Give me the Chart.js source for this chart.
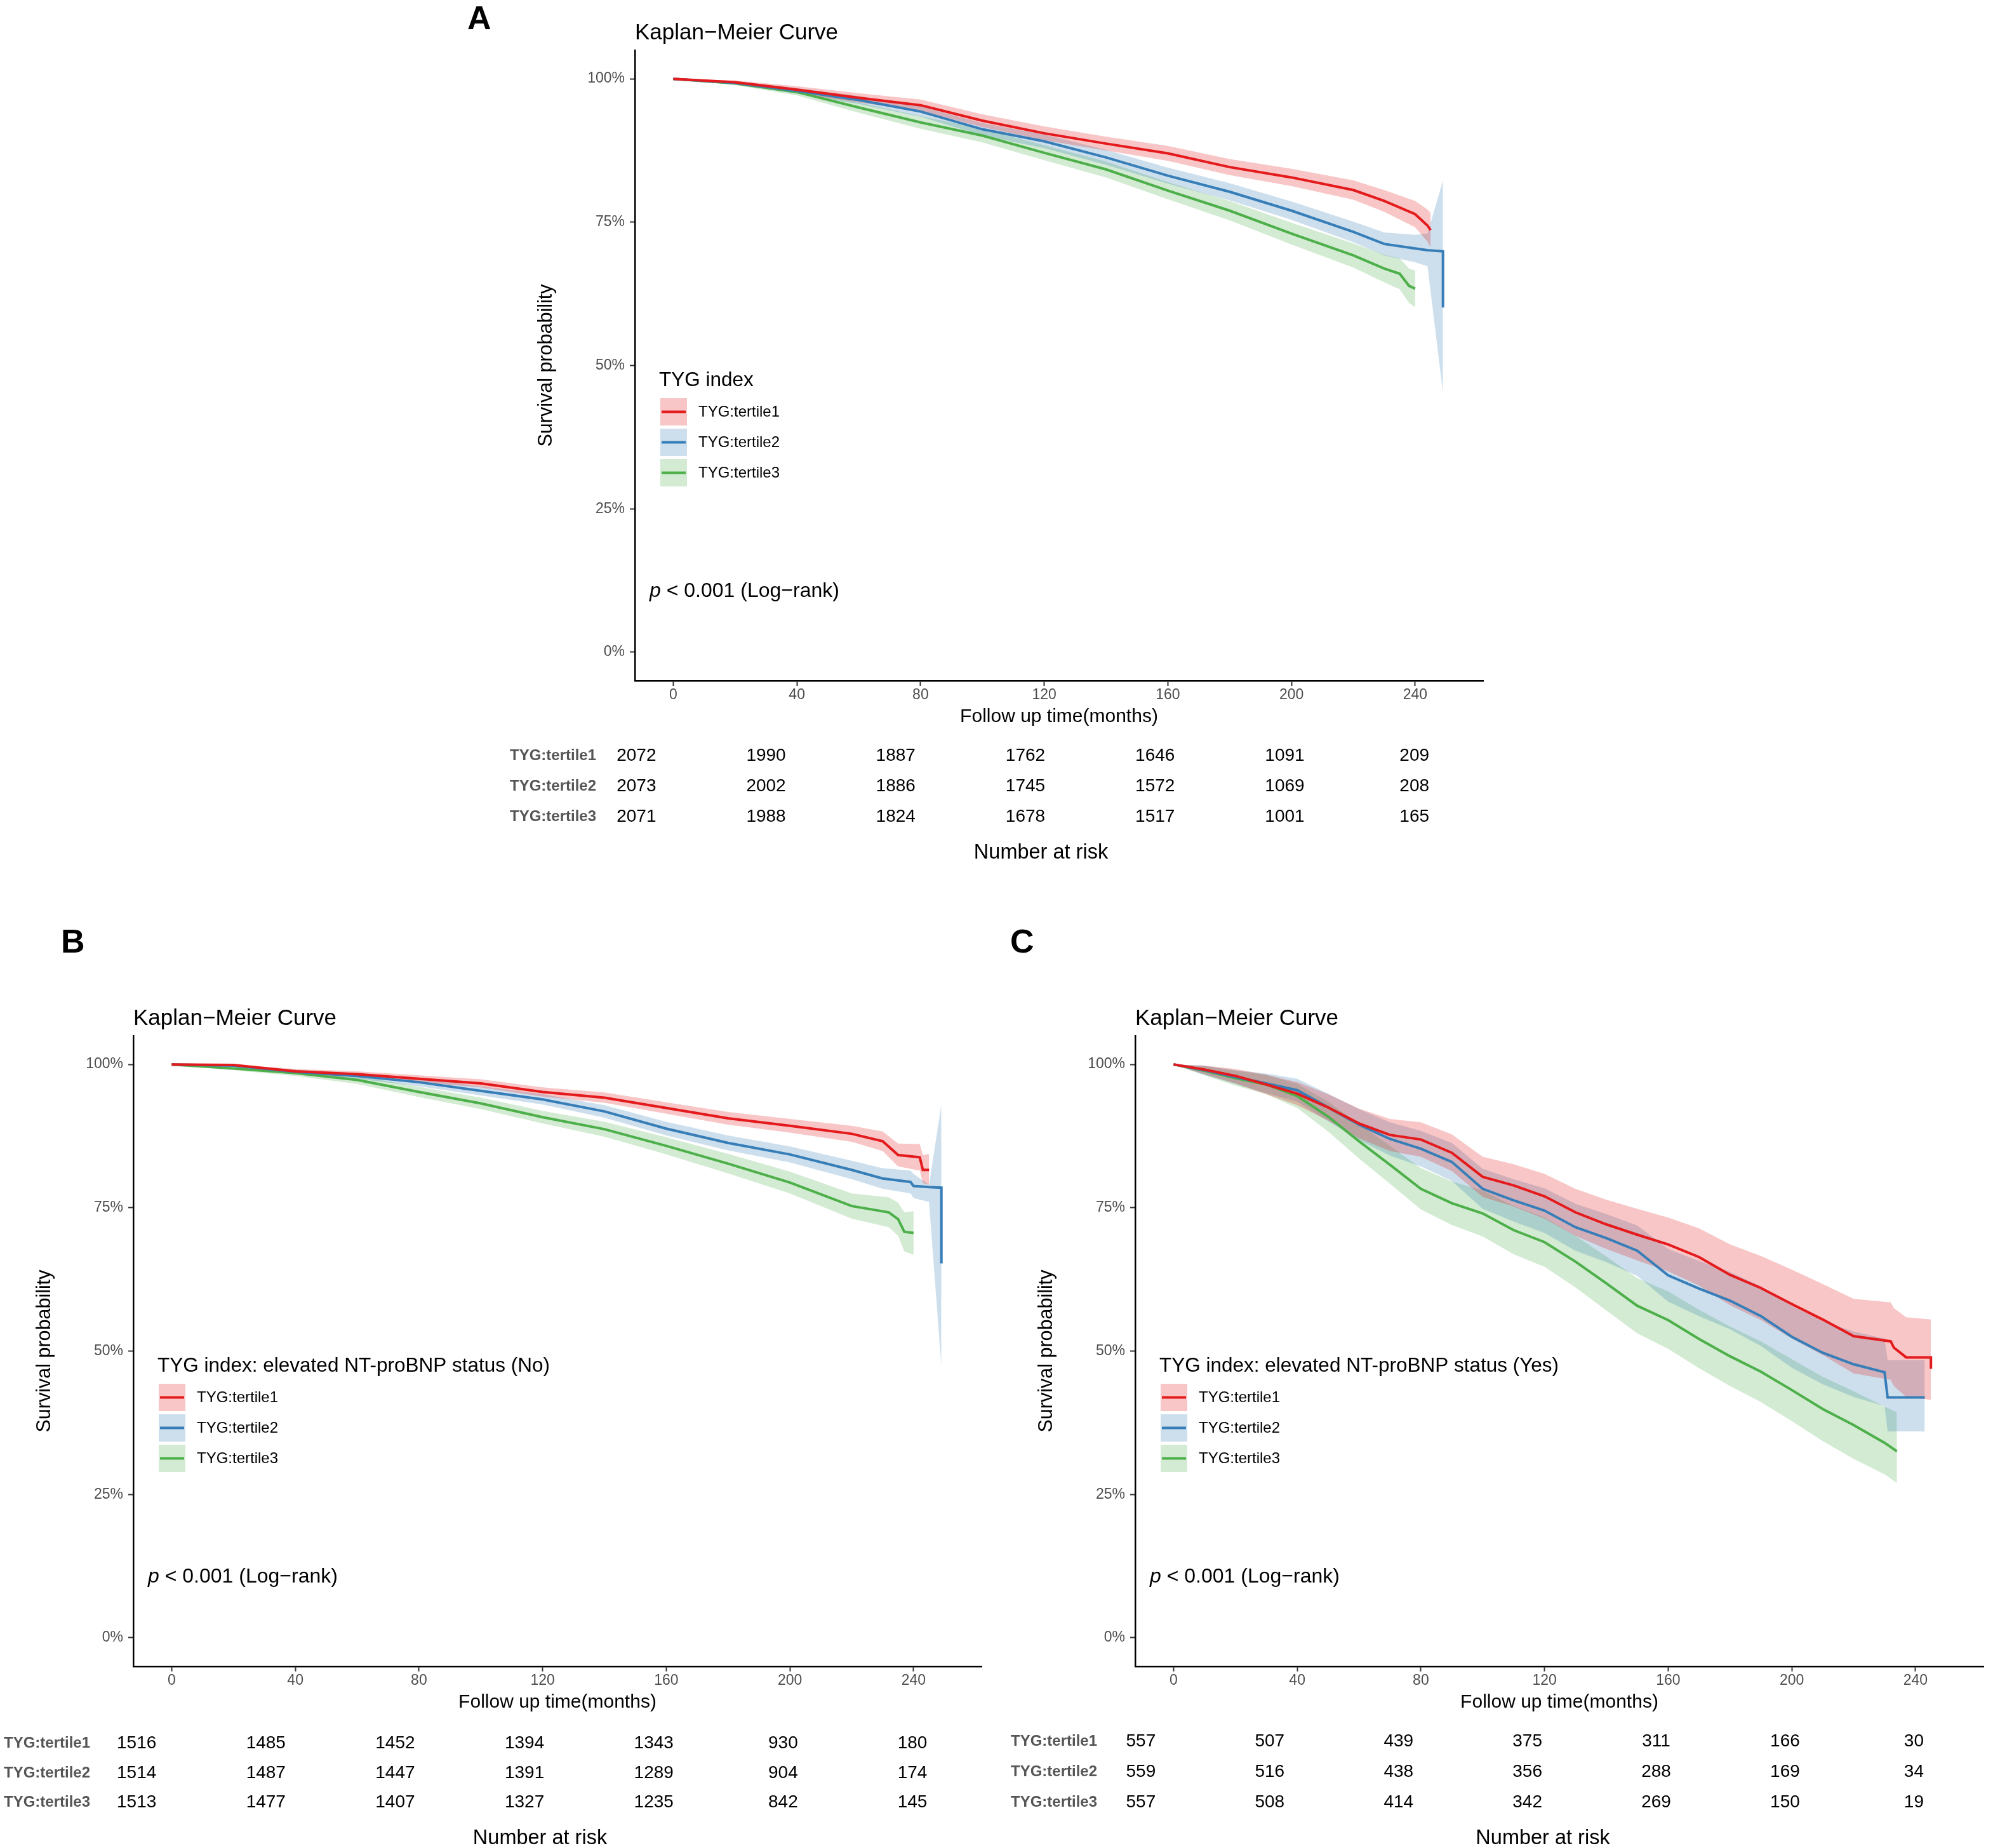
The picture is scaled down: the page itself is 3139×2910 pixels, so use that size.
<!DOCTYPE html>
<html>
<head>
<meta charset="utf-8">
<script src="https://cdn.jsdelivr.net/npm/chart.js@4.4.1/dist/chart.umd.min.js"></script>
<style>
  html, body { margin: 0; padding: 0; background: #fff; overflow: hidden; }
  body { width: 3139px; height: 2910px; position: relative; }
  canvas { position: absolute; }
  .tag { position: absolute; font: bold 52px "Liberation Sans", Arial, sans-serif; line-height: 1; color: #000; }
</style>
</head>
<body>
<div class="tag" style="left:736px;top:2px">A</div>
<div class="tag" style="left:96px;top:1456px">B</div>
<div class="tag" style="left:1591px;top:1456px">C</div>
<script>
const timeTicks = [0, 40, 80, 120, 160, 200, 240];
const survTicks = [0, 25, 50, 75, 100];
const groupNames = ["TYG:tertile1", "TYG:tertile2", "TYG:tertile3"];
const lineColors = ["#E41A1C", "#377EB8", "#4DAF4A"];
const bandColors = ["rgba(228,26,28,0.25)", "rgba(55,126,184,0.25)", "rgba(77,175,74,0.25)"];

// panel A: all patients
const aTime1 = [0, 20, 40, 60, 80, 100, 120, 140, 160, 180, 200, 220, 230, 240, 244, 245];
const aSurv1 = [100, 99.4, 98.1, 96.7, 95.4, 92.7, 90.5, 88.7, 87.0, 84.6, 82.8, 80.6, 78.7, 76.4, 74.4, 73.6];
const aHigh1 = [100, 99.7, 98.7, 97.5, 96.4, 93.8, 91.7, 89.9, 88.3, 86.0, 84.3, 82.3, 80.6, 78.7, 77.2, 76.6];
const aLow1 = [100, 99.1, 97.5, 95.9, 94.4, 91.6, 89.3, 87.5, 85.7, 83.2, 81.3, 78.9, 76.8, 74.1, 71.6, 70.6];
const aTime2 = [0, 20, 40, 60, 80, 100, 120, 140, 160, 180, 200, 220, 230, 240, 244, 249, 249];
const aSurv2 = [100, 99.3, 97.9, 96.3, 94.3, 91.2, 89.1, 86.3, 83.1, 80.3, 77.0, 73.3, 71.2, 70.4, 70.1, 69.9, 60.1];
const aHigh2 = [100, 99.6, 98.4, 97.0, 95.2, 92.3, 90.3, 87.6, 84.5, 81.8, 78.6, 75.1, 73.2, 72.8, 73.0, 82.3, 82.3];
const aLow2 = [100, 99.0, 97.4, 95.6, 93.4, 90.1, 87.9, 85.0, 81.7, 78.8, 75.4, 71.5, 69.2, 68.0, 67.3, 45.2, 45.2];
const aTime3 = [0, 20, 40, 60, 80, 100, 120, 140, 160, 180, 200, 220, 230, 235, 238, 240];
const aSurv3 = [100, 99.2, 97.7, 95.0, 92.4, 90.1, 87.1, 84.2, 80.5, 77.0, 73.0, 69.2, 66.9, 66.0, 63.9, 63.4];
const aHigh3 = [100, 99.5, 98.3, 95.9, 93.5, 91.3, 88.4, 85.6, 82.0, 78.7, 74.9, 71.3, 69.3, 68.7, 66.9, 66.6];
const aLow3 = [100, 98.9, 97.1, 94.1, 91.3, 88.9, 85.8, 82.8, 79.0, 75.3, 71.1, 67.1, 64.5, 63.3, 60.9, 60.2];
const aRisk1 = [2072, 1990, 1887, 1762, 1646, 1091, 209];
const aRisk2 = [2073, 2002, 1886, 1745, 1572, 1069, 208];
const aRisk3 = [2071, 1988, 1824, 1678, 1517, 1001, 165];

// panel B: NT-proBNP not elevated
const bTime1 = [0, 20, 40, 60, 80, 100, 120, 140, 160, 180, 200, 220, 230, 235, 242, 243, 245];
const bSurv1 = [100, 99.9, 98.8, 98.3, 97.5, 96.7, 95.2, 94.2, 92.4, 90.6, 89.3, 87.9, 86.6, 84.2, 83.8, 81.6, 81.6];
const bHigh1 = [100, 100, 99.2, 98.8, 98.1, 97.4, 96.0, 95.1, 93.4, 91.7, 90.5, 89.3, 88.3, 86.2, 86.1, 84.2, 84.4];
const bLow1 = [100, 99.7, 98.4, 97.8, 96.9, 96.0, 94.4, 93.3, 91.4, 89.5, 88.1, 86.5, 84.9, 82.2, 81.5, 79.3, 79.0];
const bTime2 = [0, 20, 40, 60, 80, 100, 120, 140, 160, 180, 200, 220, 230, 239, 240, 245, 249, 249];
const bSurv2 = [100, 99.8, 98.7, 98.0, 96.9, 95.4, 93.9, 91.8, 88.8, 86.3, 84.3, 81.6, 80.1, 79.5, 78.8, 78.6, 78.5, 65.3];
const bHigh2 = [100, 100, 99.1, 98.5, 97.6, 96.2, 94.8, 92.9, 90.0, 87.6, 85.7, 83.2, 81.9, 81.5, 80.9, 79.0, 93.0, 93.0];
const bLow2 = [100, 99.6, 98.3, 97.5, 96.2, 94.6, 93.0, 90.7, 87.6, 85.0, 82.9, 80.0, 78.3, 77.5, 76.7, 76.0, 47.3, 47.3];
const bTime3 = [0, 20, 40, 60, 80, 100, 120, 140, 160, 180, 200, 220, 232, 235, 237, 240];
const bSurv3 = [100, 99.3, 98.5, 97.3, 95.2, 93.2, 90.8, 88.7, 85.8, 82.7, 79.4, 75.3, 74.2, 73.0, 70.8, 70.6];
const bHigh3 = [100, 99.6, 99.0, 98.0, 96.1, 94.2, 91.9, 90.0, 87.3, 84.4, 81.3, 77.5, 76.8, 75.9, 74.2, 74.4];
const bLow3 = [100, 99.0, 98.0, 96.6, 94.3, 92.2, 89.7, 87.4, 84.3, 81.0, 77.5, 73.1, 71.6, 70.1, 67.4, 66.8];
const bRisk1 = [1516, 1485, 1452, 1394, 1343, 930, 180];
const bRisk2 = [1514, 1487, 1447, 1391, 1289, 904, 174];
const bRisk3 = [1513, 1477, 1407, 1327, 1235, 842, 145];

// panel C: NT-proBNP elevated
const cTime1 = [0, 10, 20, 30, 40, 50, 60, 70, 80, 90, 100, 110, 120, 130, 140, 150, 160, 170, 180, 190, 200, 210, 220, 232, 233, 237, 245, 245];
const cSurv1 = [100, 99.1, 98.0, 96.5, 94.9, 92.5, 89.7, 87.7, 86.9, 84.6, 80.4, 78.9, 77.0, 74.2, 72.1, 70.3, 68.6, 66.4, 63.3, 61.0, 58.2, 55.5, 52.6, 51.7, 50.6, 48.9, 48.9, 46.9];
const cHigh1 = [100, 99.8, 99.2, 98.2, 96.9, 94.8, 92.3, 90.5, 89.9, 87.8, 83.9, 82.6, 80.9, 78.3, 76.4, 74.8, 73.3, 71.4, 68.6, 66.6, 64.2, 61.7, 59.1, 58.5, 57.5, 55.9, 55.5, 55.0];
const cLow1 = [100, 98.3, 96.7, 94.8, 92.9, 90.2, 87.1, 84.9, 83.9, 81.4, 76.9, 75.2, 73.1, 70.1, 67.8, 65.8, 63.9, 61.4, 58.0, 55.4, 52.2, 49.3, 46.1, 45.0, 43.9, 42.0, 41.5, 41.1];
const cTime2 = [0, 10, 20, 30, 40, 50, 60, 70, 80, 90, 100, 110, 120, 130, 140, 150, 160, 170, 180, 190, 200, 210, 220, 230, 231, 243];
const cSurv2 = [100, 99.0, 97.8, 96.7, 95.5, 92.5, 89.5, 87.0, 85.3, 83.0, 78.3, 76.3, 74.5, 71.6, 69.7, 67.5, 63.2, 60.9, 58.8, 56.1, 52.5, 49.7, 47.7, 46.3, 41.9, 41.9];
const cHigh2 = [100, 99.8, 99.0, 98.4, 97.5, 94.9, 92.2, 89.9, 88.4, 86.3, 81.8, 80.0, 78.4, 75.7, 73.9, 71.9, 67.8, 65.7, 63.8, 61.3, 57.9, 55.2, 53.4, 52.2, 48.4, 48.4];
const cLow2 = [100, 98.2, 96.6, 95.0, 93.5, 90.1, 86.8, 84.1, 82.2, 79.7, 74.8, 72.6, 70.6, 67.5, 65.5, 63.1, 58.6, 56.1, 53.8, 50.9, 47.1, 44.2, 42.0, 40.4, 36.0, 36.0];
const cTime3 = [0, 10, 20, 30, 40, 50, 60, 70, 80, 90, 100, 110, 120, 130, 140, 150, 160, 170, 180, 190, 200, 210, 220, 230, 234];
const cSurv3 = [100, 98.9, 97.6, 96.5, 94.5, 90.9, 86.6, 82.5, 78.3, 75.8, 74.0, 71.1, 69.0, 65.6, 61.8, 57.9, 55.4, 52.1, 49.1, 46.4, 43.2, 39.9, 37.1, 34.0, 32.5];
const cHigh3 = [100, 99.7, 98.9, 98.2, 96.6, 93.5, 89.6, 85.8, 81.9, 79.6, 78.0, 75.3, 73.3, 70.1, 66.5, 62.7, 60.4, 57.2, 54.3, 51.7, 48.6, 45.5, 43.0, 40.3, 39.3];
const cLow3 = [100, 98.1, 96.3, 94.8, 92.4, 88.3, 83.6, 79.2, 74.7, 72.0, 70.0, 66.9, 64.7, 61.1, 57.1, 53.1, 50.4, 47.0, 43.9, 41.1, 37.8, 34.3, 31.2, 28.5, 27.0];
const cRisk1 = [557, 507, 439, 375, 311, 166, 30];
const cRisk2 = [559, 516, 438, 356, 288, 169, 34];
const cRisk3 = [557, 508, 414, 342, 269, 150, 19];

const FONT = "'Liberation Sans', Arial, sans-serif";
Chart.defaults.font.family = FONT;

const panels = [
  {
    legendTitle: "TYG index",
    axisLeft: 1000, axisTop: 79, tableLeft: 939, tableRight: 2340, labelPad: 0,
    curves: [
      { time: aTime1, surv: aSurv1, high: aHigh1, low: aLow1 },
      { time: aTime2, surv: aSurv2, high: aHigh2, low: aLow2 },
      { time: aTime3, surv: aSurv3, high: aHigh3, low: aLow3 },
    ],
    risk: [aRisk1, aRisk2, aRisk3],
  },
  {
    legendTitle: "TYG index: elevated NT-proBNP status (No)",
    axisLeft: 210, axisTop: 1631, tableLeft: 152, tableRight: 1549, labelPad: 10,
    curves: [
      { time: bTime1, surv: bSurv1, high: bHigh1, low: bLow1 },
      { time: bTime2, surv: bSurv2, high: bHigh2, low: bLow2 },
      { time: bTime3, surv: bSurv3, high: bHigh3, low: bLow3 },
    ],
    risk: [bRisk1, bRisk2, bRisk3],
  },
  {
    legendTitle: "TYG index: elevated NT-proBNP status (Yes)",
    axisLeft: 1788, axisTop: 1631, tableLeft: 1734, tableRight: 3126, labelPad: 6,
    curves: [
      { time: cTime1, surv: cSurv1, high: cHigh1, low: cLow1 },
      { time: cTime2, surv: cSurv2, high: cHigh2, low: cLow2 },
      { time: cTime3, surv: cSurv3, high: cHigh3, low: cLow3 },
    ],
    risk: [cRisk1, cRisk2, cRisk3],
  },
];

const PLOT_W = 1336;
const PLOT_H = 993;
const Y_AXIS_W = 200;
const X_AXIS_H = 80;
const TOP_PAD = 77;
const RIGHT_PAD = 12;

function points(xs, ys) {
  return xs.map((x, i) => ({ x: x, y: ys[i] }));
}

function addCanvas(left, top, width, height) {
  const canvas = document.createElement("canvas");
  canvas.width = width;
  canvas.height = height;
  canvas.style.left = left + "px";
  canvas.style.top = top + "px";
  canvas.style.width = width + "px";
  canvas.style.height = height + "px";
  document.body.appendChild(canvas);
  return canvas.getContext("2d");
}

// title, p value and the legend inside the plot
function decoPlugin(panel) {
  return {
    id: "kmDeco",
    afterDatasetsDraw(chart) {
      const ctx = chart.ctx;
      const area = chart.chartArea;
      ctx.save();
      ctx.fillStyle = "#000";
      ctx.textAlign = "left";
      ctx.textBaseline = "middle";

      ctx.font = "35px " + FONT;
      ctx.fillText("Kaplan\u2212Meier Curve", area.left, area.top - 27);

      const px = area.left + 23;
      const py = area.top + 852;
      ctx.font = "italic 32px " + FONT;
      ctx.fillText("p", px, py);
      const pw = ctx.measureText("p").width;
      ctx.font = "32px " + FONT;
      ctx.fillText(" < 0.001 (Log\u2212rank)", px + pw, py);

      ctx.font = "31.5px " + FONT;
      ctx.fillText(panel.legendTitle, area.left + 38, area.top + 520);
      groupNames.forEach((name, i) => {
        const bx = area.left + 40;
        const by = area.top + 548 + i * 48;
        ctx.fillStyle = bandColors[i];
        ctx.fillRect(bx, by, 42, 43);
        ctx.strokeStyle = lineColors[i];
        ctx.lineWidth = 4;
        ctx.beginPath();
        ctx.moveTo(bx + 2, by + 21.5);
        ctx.lineTo(bx + 40, by + 21.5);
        ctx.stroke();
        ctx.fillStyle = "#000";
        ctx.font = "24px " + FONT;
        ctx.fillText(name, area.left + 100, by + 22);
      });
      ctx.restore();
    },
  };
}

function createPlot(panel) {
  const left = panel.axisLeft - Y_AXIS_W;
  const top = panel.axisTop - TOP_PAD;
  const width = Y_AXIS_W + PLOT_W + RIGHT_PAD;
  const height = TOP_PAD + PLOT_H + X_AXIS_H;
  const ctx = addCanvas(left, top, width, height);

  const datasets = [];
  panel.curves.forEach((c, i) => {
    datasets.push({
      data: points(c.time, c.high),
      borderWidth: 0,
      borderColor: "rgba(0,0,0,0)",
      backgroundColor: bandColors[i],
      pointRadius: 0,
      fill: "+1",
      order: 3,
    });
    datasets.push({
      data: points(c.time, c.low),
      borderWidth: 0,
      borderColor: "rgba(0,0,0,0)",
      pointRadius: 0,
      fill: false,
      order: 3,
    });
  });
  panel.curves.forEach((c, i) => {
    datasets.push({
      label: groupNames[i],
      data: points(c.time, c.surv),
      borderColor: lineColors[i],
      borderWidth: 4,
      pointRadius: 0,
      fill: false,
      order: 1,
    });
  });

  new Chart(ctx, {
    type: "line",
    data: { datasets: datasets },
    options: {
      responsive: false,
      animation: false,
      events: [],
      layout: { padding: { left: 0, top: TOP_PAD, right: RIGHT_PAD, bottom: 0 } },
      plugins: { legend: { display: false }, tooltip: { enabled: false } },
      scales: {
        x: {
          type: "linear",
          min: -12.4,
          max: 262,
          afterBuildTicks: (s) => { s.ticks = timeTicks.map((v) => ({ value: v })); },
          afterFit: (s) => { s.height = X_AXIS_H; },
          ticks: { color: "#4D4D4D", font: { size: 23 }, padding: 1, maxRotation: 0 },
          grid: { drawOnChartArea: false, tickLength: 8, tickColor: "#333", tickWidth: 2 },
          border: { color: "#000", width: 2.5 },
          title: {
            display: true,
            text: "Follow up time(months)",
            color: "#000",
            font: { size: 30 },
            padding: { top: 0, bottom: 5 },
          },
        },
        y: {
          type: "linear",
          min: -5,
          max: 105,
          afterBuildTicks: (s) => { s.ticks = survTicks.map((v) => ({ value: v })); },
          afterFit: (s) => { s.width = Y_AXIS_W; },
          ticks: { color: "#4D4D4D", font: { size: 23 }, padding: 8, callback: (v) => v + "%" },
          grid: { drawOnChartArea: false, tickLength: 8, tickColor: "#333", tickWidth: 2 },
          border: { color: "#000", width: 2.5 },
          title: {
            display: true,
            text: "Survival probability",
            color: "#000",
            font: { size: 30.5 },
            padding: { top: 42, bottom: 0 },
          },
        },
      },
    },
    plugins: [decoPlugin(panel)],
  });
}

// numbers at risk drawn at the table's own scale positions
const riskTextPlugin = {
  id: "riskText",
  afterDatasetsDraw(chart) {
    const ctx = chart.ctx;
    ctx.save();
    ctx.fillStyle = "#000";
    ctx.font = "28px " + FONT;
    ctx.textAlign = "center";
    ctx.textBaseline = "middle";
    chart.data.datasets.forEach((ds, di) => {
      chart.getDatasetMeta(di).data.forEach((pt, i) => {
        ctx.fillText(String(ds.counts[i]), pt.x, pt.y);
      });
    });
    ctx.restore();
  },
};

function createTable(panel) {
  const labelW = 160;
  const rowsTop = panel.axisTop + PLOT_H + 94;
  const left = panel.tableLeft - labelW;
  const top = rowsTop - 20;
  const width = panel.tableRight + 10 - left;
  const height = 20 + 144 + 62;
  const ctx = addCanvas(left, top, width, height);

  const datasets = panel.risk.map((counts, i) => ({
    data: timeTicks.map((t) => ({ x: t, y: groupNames[i] })),
    counts: counts,
    pointRadius: 0,
    showLine: false,
  }));

  new Chart(ctx, {
    type: "scatter",
    data: { datasets: datasets },
    options: {
      responsive: false,
      animation: false,
      events: [],
      layout: { padding: { left: 0, top: 20, right: 10, bottom: 0 } },
      plugins: { legend: { display: false }, tooltip: { enabled: false } },
      scales: {
        x: {
          type: "linear",
          min: -12.4,
          max: 262,
          afterFit: (s) => { s.height = 62; },
          ticks: { display: false },
          grid: { display: false, drawTicks: false },
          border: { display: false },
          title: {
            display: true,
            text: "Number at risk",
            color: "#000",
            font: { size: 32.5 },
            padding: { top: 0, bottom: 9 },
          },
        },
        y: {
          type: "category",
          labels: groupNames,
          offset: true,
          afterFit: (s) => { s.width = labelW; },
          ticks: { color: "#555", font: { size: 24, weight: "bold" }, padding: panel.labelPad },
          grid: { display: false, drawTicks: false },
          border: { display: false },
        },
      },
    },
    plugins: [riskTextPlugin],
  });
}

panels.forEach((p) => {
  createPlot(p);
  createTable(p);
});
</script>
</body>
</html>
